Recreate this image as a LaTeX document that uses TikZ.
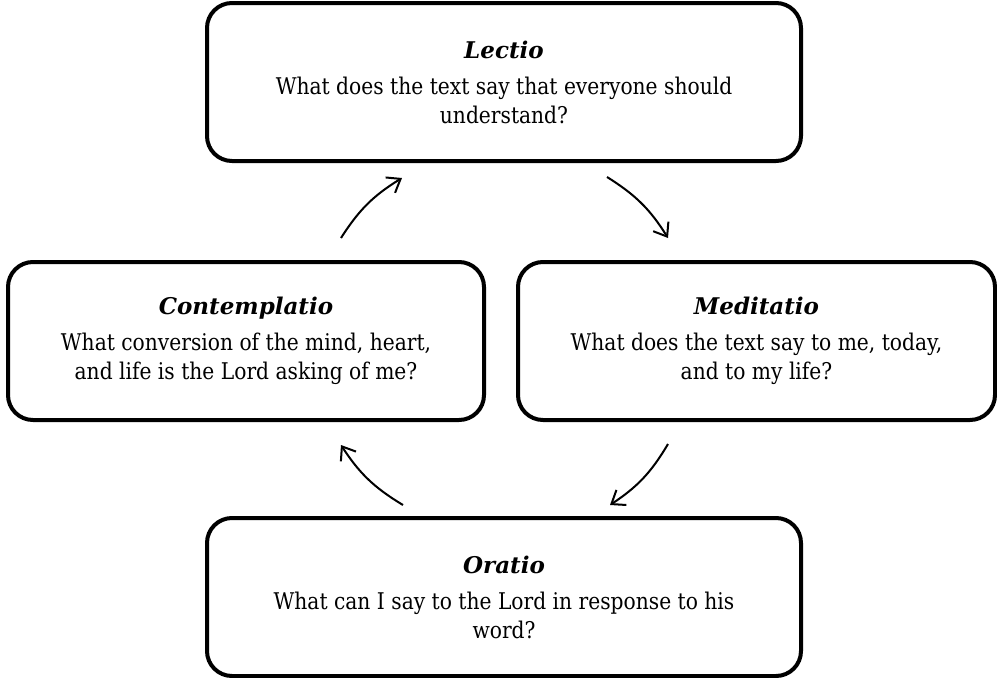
\documentclass[tikz,border=0pt]{standalone}
\usepackage{fontspec}
\setmainfont{DejaVu Serif}[FakeStretch=0.88]
\newfontfamily\ttlfont{DejaVu Serif}
\usetikzlibrary{arrows.meta}
\begin{document}
\begin{tikzpicture}[x=1pt,y=1pt,
 box/.style={draw, line width=4pt, rounded corners=25pt, align=center, inner sep=0pt,
   minimum height=158pt, font=\fontsize{23}{29}\selectfont},
 cyc/.style={line width=2pt, -{Straight Barb[length=12pt,width=18pt]}, bend left=13}]
\newcommand{\ttl}[1]{{\ttlfont\bfseries\itshape #1}}
\useasboundingbox (0,0) rectangle (997,-678);
\node[box, minimum width=594pt] (lec) at (504,-82)
  {\ttl{Lectio}\\[7pt]What does the text say that everyone should\\understand?};
\node[box, minimum width=476pt] (con) at (246,-341)
  {\ttl{Contemplatio}\\[7pt]What conversion of the mind, heart,\\and life is the Lord asking of me?};
\node[box, minimum width=477pt] (med) at (756.5,-341)
  {\ttl{Meditatio}\\[7pt]What does the text say to me, today,\\and to my life?};
\node[box, minimum width=594pt] (ora) at (504,-597)
  {\ttl{Oratio}\\[7pt]What can I say to the Lord in response to his\\word?};
\coordinate (a1s) at (341,-238); \coordinate (a1e) at (402,-178);
\coordinate (a2s) at (607,-177); \coordinate (a2e) at (668,-238);
\coordinate (a3s) at (668,-444); \coordinate (a3e) at (610,-505);
\coordinate (a4s) at (403,-505); \coordinate (a4e) at (341,-445);
\draw[cyc] (a1s) to (a1e);
\draw[cyc] (a2s) to (a2e);
\draw[cyc] (a3s) to (a3e);
\draw[cyc] (a4s) to (a4e);
\end{tikzpicture}
\end{document}
